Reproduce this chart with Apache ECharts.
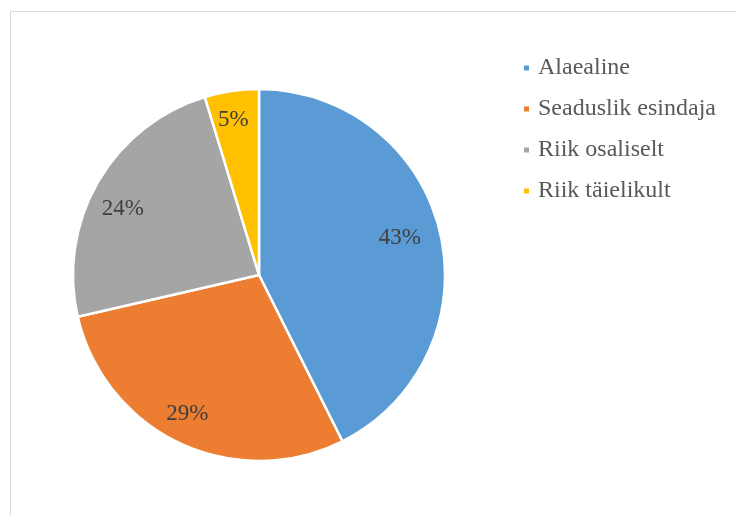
<!DOCTYPE html>
<html>
<head>
<meta charset="utf-8">
<script src="https://cdn.jsdelivr.net/npm/echarts@6/dist/echarts.min.js"></script>
<style>
  html, body { margin: 0; padding: 0; background: #fff; }
  #chart { width: 736px; height: 515px; }
</style>
</head>
<body>
<div id="chart"></div>
<script>
// shares (labels show the rounded percent)
var categories = ["Alaealine", "Seaduslik esindaja", "Riik osaliselt", "Riik täielikult"];
var shares = [42.6, 28.8, 23.9, 4.7];
var colors = ["#5b9bd5", "#ed7d31", "#a5a5a5", "#ffc000"];

// small label nudges so the percentages sit where the original put them
var labelNudge = [[-9, -2], [-6, 0], [-3, 11], [-3, -3]];

var pieData = categories.map(function (name, i) {
  return { name: name, value: shares[i] };
});
var labelData = categories.map(function (name, i) {
  return { name: name, value: shares[i], label: { offset: labelNudge[i] } };
});

var myChart = echarts.init(document.getElementById("chart"));
myChart.setOption({
  animation: false,
  backgroundColor: "#fff",
  color: colors,
  graphic: [
    {
      type: "rect",
      shape: { x: 10.5, y: 11.5, width: 900, height: 700 },
      style: { fill: "none", stroke: "#d9d9d9", lineWidth: 1 },
      silent: true
    }
  ],
  legend: {
    orient: "vertical",
    left: 517,
    top: 51,
    icon: "rect",
    itemWidth: 7,
    itemHeight: 7,
    itemGap: 17,
    textStyle: {
      fontFamily: "Liberation Serif",
      fontSize: 24,
      color: "#595959",
      padding: [0, 0, 0, 3]
    },
    data: categories
  },
  series: [
    {
      type: "pie",
      center: [259, 275],
      radius: [0, 186],
      startAngle: 90,
      clockwise: true,
      label: { show: false },
      labelLine: { show: false },
      itemStyle: { borderColor: "#fff", borderWidth: 2.5 },
      emphasis: { disabled: true },
      data: pieData
    },
    {
      // transparent ring just to place the labels farther out
      type: "pie",
      center: [259, 275],
      radius: [116, 186],
      startAngle: 90,
      clockwise: true,
      silent: true,
      itemStyle: { color: "rgba(0,0,0,0)", borderWidth: 0 },
      label: {
        show: true,
        position: "inside",
        formatter: function (p) { return Math.round(p.value) + "%"; },
        fontFamily: "Liberation Serif",
        fontSize: 23,
        color: "#404040"
      },
      labelLine: { show: false },
      emphasis: { disabled: true },
      data: labelData
    }
  ]
});
</script>
</body>
</html>
